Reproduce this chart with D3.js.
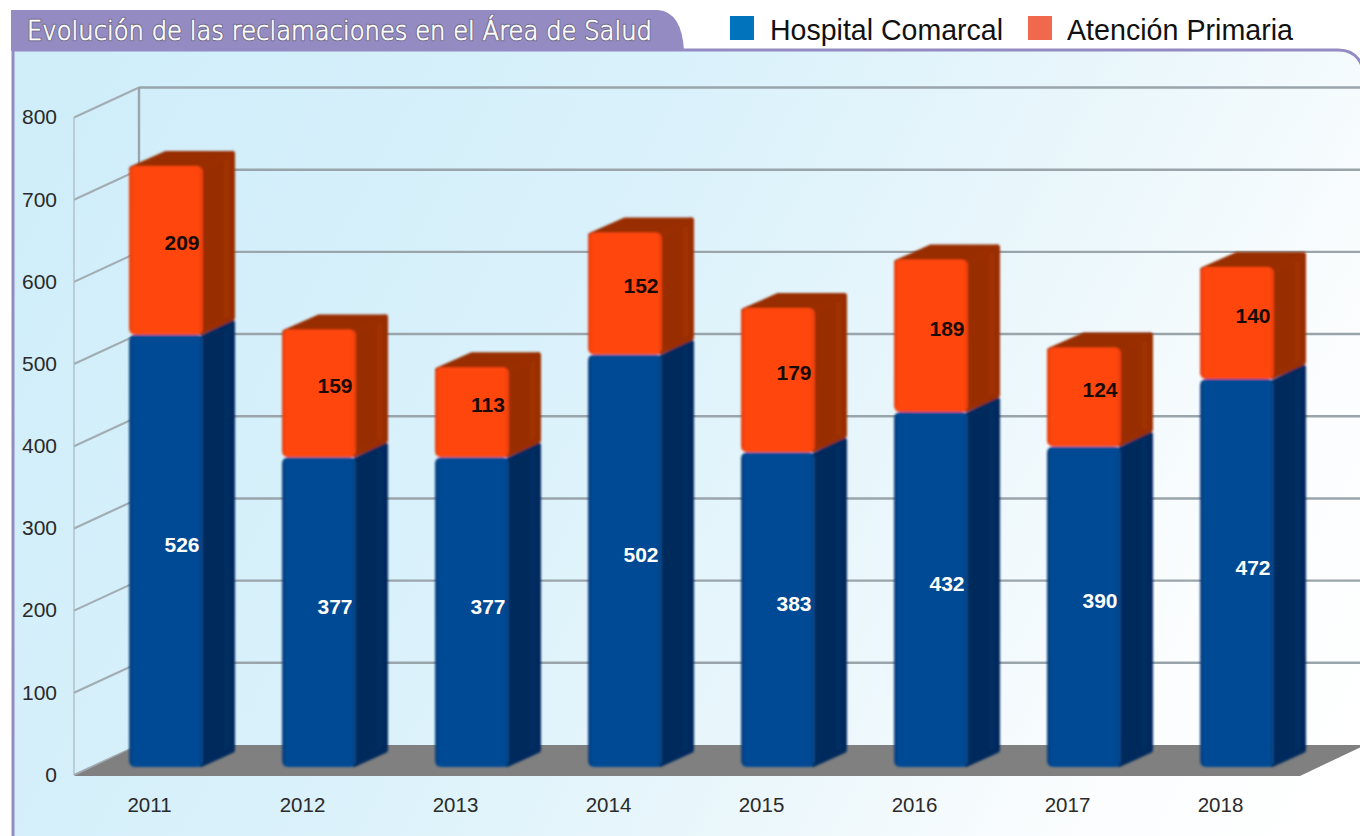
<!DOCTYPE html>
<html><head><meta charset="utf-8">
<script src="https://cdn.jsdelivr.net/npm/d3@7/dist/d3.min.js"></script>
<style>html,body{margin:0;padding:0;background:#fff}svg{display:block}text{font-family:"Liberation Sans",Arial,sans-serif}</style>
</head><body><div id="c"></div>
<script>
const years=["2011","2012","2013","2014","2015","2016","2017","2018"];
const hospital=[526,377,377,502,383,432,390,472];
const primaria=[209,159,113,152,179,189,124,140];
const yTicks=[0,100,200,300,400,500,600,700,800];
const seriesNames=["Hospital Comarcal","Atención Primaria"];
const titleText="Evolución de las reclamaciones en el Área de Salud";

const W=1360,H=836;
const svg=d3.select("#c").append("svg").attr("width",W).attr("height",H);
const defs=svg.append("defs");
const bg=defs.append("linearGradient").attr("id","bg").attr("gradientUnits","userSpaceOnUse")
 .attr("x1",80).attr("y1",120).attr("x2",1340).attr("y2",800);
[[0,"#d0eefa"],[.35,"#d9f1fb"],[.6,"#e8f6fb"],[.85,"#fbfdfe"],[1,"#ffffff"]].forEach(s=>bg.append("stop").attr("offset",s[0]).attr("stop-color",s[1]));
function faceGrad(id,edge,mid){const g=defs.append("linearGradient").attr("id",id);
 [[0,edge],[.07,mid],[.93,mid],[1,edge]].forEach(s=>g.append("stop").attr("offset",s[0]).attr("stop-color",s[1]));}
faceGrad("fb","#0a4180","#004a94");faceGrad("fo","#e8400a","#ff4609");
function sideGrad(id,a,b){const g=defs.append("linearGradient").attr("id",id);
 [[0,a],[.7,a],[.78,b],[1,b]].forEach(s=>g.append("stop").attr("offset",s[0]).attr("stop-color",s[1]));}
sideGrad("sb","#002b5b","#002f62");sideGrad("so","#982e05","#a03205");
function soft(id,s){const f=defs.append("filter").attr("id",id).attr("x","-5%").attr("y","-5%").attr("width","110%").attr("height","110%");
 f.append("feGaussianBlur").attr("stdDeviation",s);}
soft("soft",.8);soft("softG",.5);

// panel and title tab
const purple="#938bc2";
svg.append("path").attr("d",`M13,845V50H1338Q1356,50 1362,66V845Z`).attr("fill","url(#bg)").attr("stroke",purple).attr("stroke-width",3);
svg.append("path").attr("d",`M11,51V10H658Q682,12 684,51Z`).attr("fill",purple);
const tt=(stroke,sw,fill)=>svg.append("text").attr("x",27).attr("y",40).attr("font-size",26).attr("textLength",625).attr("lengthAdjust","spacingAndGlyphs")
 .style("font-family","'DejaVu Sans',Roboto,sans-serif").style("font-weight",200).attr("fill",fill).attr("stroke",stroke).attr("stroke-width",sw).attr("stroke-linejoin","round").text(titleText);
tt("#6f6a85",2.6,"#6f6a85");
tt("#fff",.7,"#fff");

// legend
const legendX=[730,1028],legendC=["#0073bd","#f0694c"],legendW=[233,226];
seriesNames.forEach((n,i)=>{
 svg.append("rect").attr("x",legendX[i]).attr("y",16).attr("width",24).attr("height",24).attr("fill",legendC[i]);
 svg.append("text").attr("x",legendX[i]+(i?39:40)).attr("y",40).attr("font-size",29).attr("textLength",legendW[i]).attr("lengthAdjust","spacingAndGlyphs").attr("fill","#111").text(n);
});

// scales: front plane of the chart box; depth offsets give the 3D look
const y=d3.scaleLinear().domain([0,800]).range([775,117.5]);
const x=d3.scaleBand().domain(years).range([73,1297]);
const depth={dx:65,dy:-30}, barD={dx:32,dy:-15}, barW=74;
const plane=74, back=plane+depth.dx;
const barX=d=>x(d)+x.bandwidth()/2-barW/2+16.5;
const barY=v=>y(v)-8;

// walls
const grid=svg.append("g").attr("fill","none").attr("filter","url(#softG)");
grid.selectAll(".s").data(yTicks).join("line").attr("x1",plane).attr("x2",back)
 .attr("y1",d=>y(d)).attr("y2",d=>y(d)+depth.dy).attr("stroke","#a2adb3").attr("stroke-width",2.2);
grid.selectAll(".b").data(yTicks.slice(1)).join("line").attr("x1",back).attr("x2",W+6)
 .attr("y1",d=>y(d)+depth.dy).attr("y2",d=>y(d)+depth.dy).attr("stroke","#9aa5ab").attr("stroke-width",2.4);
grid.append("line").attr("x1",plane).attr("x2",plane).attr("y1",y(0)).attr("y2",y(800)).attr("stroke","#aab5bb").attr("stroke-width",1.2);
grid.append("line").attr("x1",back).attr("x2",back).attr("y1",y(0)+depth.dy).attr("y2",y(800)+depth.dy).attr("stroke","#9aa5ab").attr("stroke-width",2.4);
svg.append("path").attr("d",`M${plane},${y(0)+1}L${back},${y(0)+depth.dy}H${W+5}L1300,${y(0)+1}Z`).attr("fill","#808080");

// bars
const bars=svg.append("g").attr("filter","url(#soft)");
function box(g,x0,vLo,vHi,cS,cT,face,topInset){
 const t=barY(vHi)+topInset,b=barY(vLo),r=x0+barW,i=3;
 const g2=g.append("g").attr("stroke-linejoin","round").attr("stroke-width",6);
 if(cT) g2.append("path").attr("d",`M${x0+i},${t+3}L${x0+barD.dx+5},${t+barD.dy+i}H${r+barD.dx-i}V${t+8}H${r}Z`).attr("fill",cT).attr("stroke",cT);
 g2.append("path").attr("d",`M${r},${t+3}L${r+barD.dx-i},${t+barD.dy+i}V${b+barD.dy-2}L${r-2},${b-i}Z`).attr("fill",`url(#${cS})`).attr("stroke",cS=="sb"?"#002c5d":"#9a2f05");
 g.append("rect").attr("x",x0).attr("y",t).attr("width",barW).attr("height",b-t).attr("rx",6).attr("fill",`url(#${face})`);
}
years.forEach((yr,i)=>{
 const gg=bars.append("g");
 box(gg,barX(yr),0,hospital[i],"sb",null,"fb",0);
 box(gg,barX(yr),hospital[i],hospital[i]+primaria[i],"so","#982e05","fo",3);
});

// value labels
const lx=d=>barX(d)+barW/2+barD.dx/2;
const lab=svg.append("g").attr("font-size",21).attr("font-weight","bold").attr("text-anchor","middle");
lab.selectAll(".h").data(years).join("text").attr("x",lx)
 .attr("y",(d,i)=>(barY(0)+barY(hospital[i]))/2+barD.dy/2+9).attr("fill","#fff").text((d,i)=>hospital[i]);
lab.selectAll(".p").data(years).join("text").attr("x",lx)
 .attr("y",(d,i)=>(barY(hospital[i])+barY(hospital[i]+primaria[i]))/2+barD.dy/2+9).attr("fill","#1a0a05").text((d,i)=>primaria[i]);

// axes
const ay=svg.append("g").attr("transform","translate(57,0)").call(d3.axisLeft(y).tickValues(yTicks).tickSize(0).tickPadding(0));
ay.select(".domain").remove();
ay.selectAll("text").attr("font-size",21).attr("fill","#2a2a2a").style("font-family","'Liberation Sans',Arial,sans-serif").attr("dy",".3em");
const ax=svg.append("g").attr("transform","translate(0,805)").call(d3.axisBottom(x).tickSize(0).tickPadding(0));
ax.select(".domain").remove();
ax.selectAll("text").attr("font-size",20.5).attr("fill","#2a2a2a").style("font-family","'Liberation Sans',Arial,sans-serif").attr("dy",".36em");
</script></body></html>
